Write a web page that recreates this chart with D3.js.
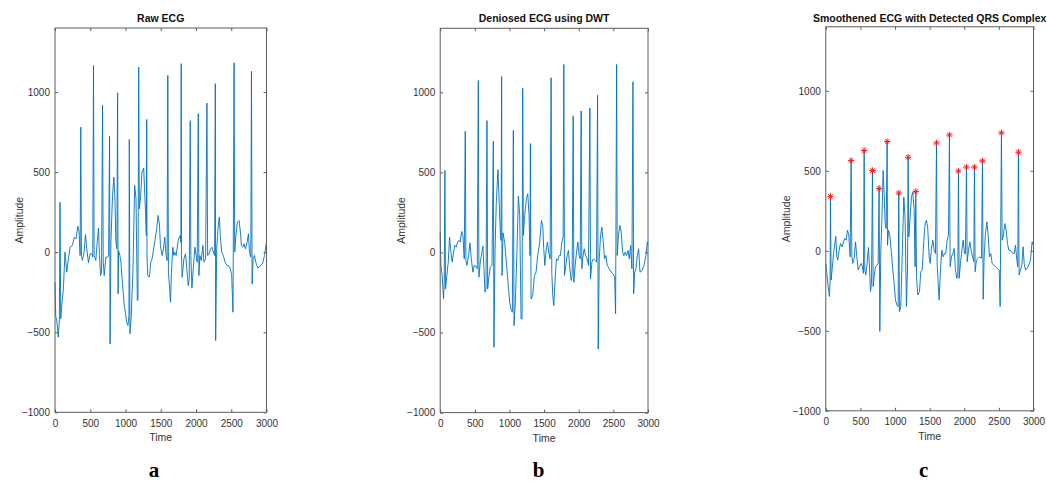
<!DOCTYPE html>
<html>
<head>
<meta charset="utf-8">
<script src="https://cdn.jsdelivr.net/npm/d3@7"></script>
<style>
  html, body { margin: 0; padding: 0; background: #fff; }
  svg { display: block; font-family: "Liberation Sans", Arial, Helvetica, sans-serif; }
</style>
</head>
<body>
<svg id="chart" width="1047" height="482"></svg>
<script>
// ---- axis ticks and labels ----
const timeTicks = [0, 500, 1000, 1500, 2000, 2500, 3000];
const ampTicks = [-1000, -500, 0, 500, 1000];
const timeDomain = [0, 3000];
const ampDomain = [-1000, 1400];
const titles = ["Raw ECG", "Deniosed ECG using DWT", "Smoothened ECG with Detected QRS Complex"];
const letters = ["a", "b", "c"];
const xLabel = "Time";
const yLabel = "Amplitude";

// ---- signals: [time (samples), amplitude] ----
const rawEcg = [
  [0,-187],[10,-396],[28,-437],[47,-531],[62,-417],[71,312],[81,-417],[100,-312],[119,-229],[142,0],
  [166,-125],[190,-42],[214,31],[247,42],[275,94],[299,83],[323,162],[342,125],[356,-21],[366,781],
  [375,-21],[389,-52],[413,0],[432,110],[451,21],[475,-67],[498,-10],[522,-10],[536,-31],[546,1166],
  [555,-21],[579,-52],[598,62],[617,150],[631,-21],[646,-146],[660,-125],[674,917],[684,-62],[698,-146],
  [722,-31],[745,-31],[760,-21],[774,723],[781,-573],[793,62],[816,354],[835,469],[850,333],[864,62],
  [878,21],[888,996],[895,-260],[902,10],[921,-21],[935,-62],[959,-208],[978,-312],[997,-375],[1016,-437],
  [1035,-458],[1049,-396],[1054,704],[1063,-510],[1082,-396],[1106,-104],[1130,417],[1149,333],[1168,-302],[1177,-292],
  [1187,1156],[1196,271],[1215,354],[1234,500],[1258,525],[1282,271],[1296,104],[1301,829],[1305,-21],[1315,-146],
  [1339,-156],[1358,-62],[1377,-42],[1400,21],[1424,94],[1443,146],[1462,229],[1481,177],[1495,42],[1519,-21],
  [1538,21],[1557,94],[1576,-21],[1590,-52],[1600,1104],[1609,-125],[1623,-208],[1638,-312],[1652,-125],[1671,31],
  [1685,-21],[1699,0],[1718,-21],[1747,73],[1775,104],[1785,62],[1790,1177],[1794,-21],[1804,-156],[1828,-42],
  [1851,-10],[1870,-104],[1889,-208],[1904,-167],[1918,821],[1927,-21],[1942,-225],[1961,-104],[1984,31],[2003,-21],
  [2017,-62],[2032,864],[2041,-146],[2055,-21],[2074,-52],[2098,42],[2112,-62],[2136,-42],[2155,931],[2165,-21],
  [2184,-10],[2207,21],[2226,31],[2245,0],[2264,-21],[2274,1052],[2279,-552],[2293,21],[2312,146],[2331,219],
  [2345,104],[2364,0],[2388,-21],[2412,-62],[2440,-83],[2468,-87],[2487,-104],[2506,-146],[2525,-375],[2540,1183],
  [2549,0],[2563,94],[2587,187],[2611,198],[2630,125],[2644,42],[2663,31],[2682,52],[2701,21],[2725,62],
  [2744,115],[2758,0],[2777,-31],[2787,1129],[2796,-198],[2810,-42],[2829,-21],[2848,-62],[2877,-100],[2905,-87],
  [2943,-73],[2972,-21],[2995,52]
];

const dwtEcg = [
  [0,127],[10,-81],[29,-144],[48,-290],[58,-207],[68,513],[77,-227],[96,-144],[116,-60],[135,96],
  [154,2],[174,-60],[193,2],[212,44],[232,33],[251,65],[270,75],[289,65],[309,131],[328,106],
  [347,-40],[362,757],[371,-50],[386,-81],[410,-19],[429,60],[449,-40],[473,-123],[492,-81],[516,-86],
  [535,-102],[550,1074],[559,-154],[579,-60],[598,-8],[617,38],[632,-102],[646,-248],[661,-227],[675,824],
  [685,-227],[699,-165],[723,-92],[748,-81],[767,695],[776,-592],[791,2],[810,315],[834,517],[854,294],
  [868,127],[878,75],[887,1099],[892,-144],[907,123],[931,65],[955,-60],[979,-186],[1003,-311],[1022,-353],
  [1042,-373],[1056,763],[1066,-457],[1085,-311],[1109,23],[1129,352],[1148,232],[1167,-415],[1182,-415],[1191,1028],
  [1201,106],[1220,232],[1244,336],[1264,367],[1283,232],[1297,-19],[1302,680],[1312,-290],[1336,-269],[1360,-144],
  [1384,-123],[1408,-19],[1437,65],[1461,200],[1481,169],[1495,23],[1510,-81],[1529,13],[1548,65],[1567,2],
  [1587,-40],[1601,1091],[1611,-123],[1625,-269],[1640,-332],[1659,-165],[1678,-40],[1698,-50],[1717,-19],[1736,-19],
  [1756,65],[1775,96],[1785,1174],[1794,-144],[1813,-81],[1833,-19],[1852,13],[1871,-102],[1891,-175],[1905,-144],
  [1920,853],[1929,-186],[1948,-81],[1968,2],[1987,65],[2006,-19],[2021,-40],[2035,884],[2045,-102],[2059,-29],
  [2079,23],[2098,-19],[2122,-40],[2141,-81],[2161,903],[2170,-165],[2190,-60],[2209,-40],[2238,-50],[2257,-60],
  [2272,982],[2281,-603],[2296,-40],[2315,106],[2334,158],[2354,65],[2373,-40],[2392,-19],[2412,-81],[2440,-102],
  [2469,-123],[2498,-134],[2518,-154],[2532,-384],[2547,1174],[2556,-19],[2571,96],[2595,169],[2614,127],[2633,2],
  [2653,-19],[2672,2],[2691,-19],[2711,13],[2730,-40],[2749,44],[2768,-102],[2783,1066],[2793,-259],[2807,-123],
  [2826,-102],[2846,-19],[2865,23],[2884,-123],[2913,-113],[2942,-81],[2971,-19],[2990,65],[3000,44]
];

const smoothEcg = [
  [0,-79],[14,-141],[34,-224],[53,-286],[63,-162],[67,340],[77,-183],[91,-120],[111,-17],[130,46],
  [144,91],[159,-37],[173,-58],[193,4],[212,46],[236,25],[255,56],[274,77],[294,66],[313,129],
  [332,98],[351,-37],[366,564],[376,-37],[390,-79],[409,-48],[429,56],[448,-37],[467,-120],[486,-100],
  [510,-79],[530,-100],[544,-141],[554,627],[563,-120],[578,-151],[597,-79],[616,21],[631,-100],[645,-255],
  [660,-203],[674,502],[684,-224],[698,-162],[717,-100],[742,-89],[756,-79],[770,390],[780,-504],[794,-17],
  [814,253],[828,502],[843,357],[857,170],[872,139],[886,683],[891,35],[905,129],[924,98],[949,-17],
  [968,-120],[987,-203],[1006,-307],[1026,-338],[1045,-349],[1054,361],[1064,-380],[1083,-349],[1103,-37],[1127,336],
  [1146,191],[1165,-349],[1180,-120],[1189,585],[1199,87],[1218,212],[1237,336],[1257,367],[1276,253],[1290,-100],
  [1300,371],[1310,-162],[1329,-276],[1353,-255],[1372,-131],[1392,-120],[1416,66],[1435,170],[1454,191],[1473,139],
  [1493,-37],[1507,-79],[1526,15],[1546,66],[1565,4],[1584,-17],[1599,674],[1608,-79],[1623,-203],[1637,-307],
  [1656,-120],[1676,4],[1695,-37],[1714,-17],[1733,-17],[1752,66],[1772,98],[1786,724],[1796,-100],[1815,-37],
  [1835,-17],[1854,15],[1873,-120],[1892,-172],[1907,-141],[1916,498],[1926,-172],[1945,-79],[1965,4],[1984,66],
  [2003,-17],[2017,-17],[2032,523],[2042,-68],[2061,4],[2080,56],[2099,4],[2119,-37],[2138,-68],[2147,523],
  [2157,-131],[2176,-58],[2200,-48],[2224,-37],[2249,-48],[2263,562],[2273,-303],[2287,-37],[2306,108],[2326,181],
  [2345,98],[2364,-37],[2383,-17],[2403,-79],[2427,-89],[2451,-100],[2480,-110],[2504,-120],[2518,-349],[2537,737],
  [2547,66],[2562,87],[2586,170],[2605,129],[2624,46],[2643,4],[2663,4],[2682,-6],[2701,-17],[2720,-17],
  [2740,35],[2759,-58],[2773,-100],[2782,616],[2792,-151],[2812,-120],[2831,-89],[2850,25],[2865,-79],[2884,-120],
  [2908,-110],[2932,-89],[2956,-58],[2980,56],[2999,35]
];

// detected R peaks on the smoothed signal
const qrsPeaks = [
  [67,340],[366,564],[554,627],[674,502],[770,390],[886,683],[1054,361],[1189,585],[1300,371],
  [1599,674],[1786,724],[1916,498],[2032,523],[2147,523],[2263,562],[2537,737],[2782,616]
];

// ---- layout ----
const panels = [
  { data: rawEcg,    peaks: null,     title: titles[0], letter: letters[0], left: 55,    right: 266.5,  top: 28,   bottom: 412.3, ylabX: 23,    letterX: 154 },
  { data: dwtEcg,    peaks: null,     title: titles[1], letter: letters[1], left: 440.2, right: 648,    top: 28.3, bottom: 412.6, ylabX: 404.5, letterX: 538.7 },
  { data: smoothEcg, peaks: qrsPeaks, title: titles[2], letter: letters[2], left: 825.8, right: 1033.5, top: 26.8, bottom: 410.8, ylabX: 790,   letterX: 923.7 }
];

const axisColor = "#5e5e5e";
const textColor = "#333333";
const lineColor = "#0072bd";

// eight-armed star marker (plus + cross)
const asteriskSymbol = {
  draw(ctx, size) {
    const r = Math.sqrt(size) / 2;
    const d = r * Math.SQRT1_2;
    ctx.moveTo(0, -r); ctx.lineTo(0, r);
    ctx.moveTo(-r, 0); ctx.lineTo(r, 0);
    ctx.moveTo(-d, -d); ctx.lineTo(d, d);
    ctx.moveTo(-d, d); ctx.lineTo(d, -d);
  }
};

const svg = d3.select("#chart");

panels.forEach(p => {
  const g = svg.append("g");
  const x = d3.scaleLinear().domain(timeDomain).range([p.left, p.right]);
  const y = d3.scaleLinear().domain(ampDomain).range([p.bottom, p.top]);

  // signal trace
  g.append("path")
    .datum(p.data)
    .attr("fill", "none")
    .attr("stroke", lineColor)
    .attr("stroke-width", 0.9)
    .attr("stroke-linejoin", "round")
    .attr("d", d3.line().x(d => x(d[0])).y(d => y(d[1])));

  // QRS markers
  if (p.peaks) {
    g.selectAll("path.peak")
      .data(p.peaks)
      .join("path")
      .attr("class", "peak")
      .attr("transform", d => `translate(${x(d[0])},${y(d[1])})`)
      .attr("d", d3.symbol(asteriskSymbol, 40))
      .attr("fill", "none")
      .attr("stroke", "#ff1a1a")
      .attr("stroke-width", 1);
  }

  // axes with inward ticks on all four sides
  const styleAxis = sel => {
    sel.select(".domain").remove();
    sel.selectAll(".tick line").attr("stroke", axisColor);
    sel.selectAll(".tick text").attr("fill", textColor)
      .style("font-size", "10px")
      .style("font-family", "'Liberation Sans', Arial, Helvetica, sans-serif");
  };

  g.append("g").attr("transform", `translate(0,${p.bottom})`)
    .call(d3.axisBottom(x).tickValues(timeTicks).tickSizeInner(-3).tickSizeOuter(0).tickPadding(7.5).tickFormat(d3.format("d")))
    .call(styleAxis);
  g.append("g").attr("transform", `translate(0,${p.top})`)
    .call(d3.axisTop(x).tickValues(timeTicks).tickSizeInner(-3).tickSizeOuter(0).tickFormat(() => ""))
    .call(styleAxis);
  g.append("g").attr("transform", `translate(${p.left},0)`)
    .call(d3.axisLeft(y).tickValues(ampTicks).tickSizeInner(-3).tickSizeOuter(0).tickPadding(5).tickFormat(d3.format("d")))
    .call(styleAxis);
  g.append("g").attr("transform", `translate(${p.right},0)`)
    .call(d3.axisRight(y).tickValues(ampTicks).tickSizeInner(-3).tickSizeOuter(0).tickFormat(() => ""))
    .call(styleAxis);

  // axes box
  g.append("rect")
    .attr("x", p.left).attr("y", p.top)
    .attr("width", p.right - p.left).attr("height", p.bottom - p.top)
    .attr("fill", "none").attr("stroke", axisColor).attr("stroke-width", 1);

  const cx = (p.left + p.right) / 2;

  // title
  g.append("text")
    .attr("x", cx).attr("y", 22)
    .attr("text-anchor", "middle")
    .style("font-size", "10.5px").style("font-weight", "bold")
    .attr("fill", "#111")
    .text(p.title);

  // axis labels
  g.append("text")
    .attr("x", cx).attr("y", p.bottom + 29)
    .attr("text-anchor", "middle")
    .style("font-size", "10.5px")
    .attr("fill", textColor)
    .text(xLabel);
  g.append("text")
    .attr("transform", `translate(${p.ylabX},${(p.top + p.bottom) / 2}) rotate(-90)`)
    .attr("text-anchor", "middle")
    .style("font-size", "10.5px")
    .attr("fill", textColor)
    .text(yLabel);

  // sub-figure letter
  g.append("text")
    .attr("x", p.letterX).attr("y", 477)
    .attr("text-anchor", "middle")
    .style("font-family", "'Liberation Serif', 'Times New Roman', serif")
    .style("font-size", "21px").style("font-weight", "bold")
    .attr("fill", "#000")
    .text(p.letter);
});
</script>
</body>
</html>
